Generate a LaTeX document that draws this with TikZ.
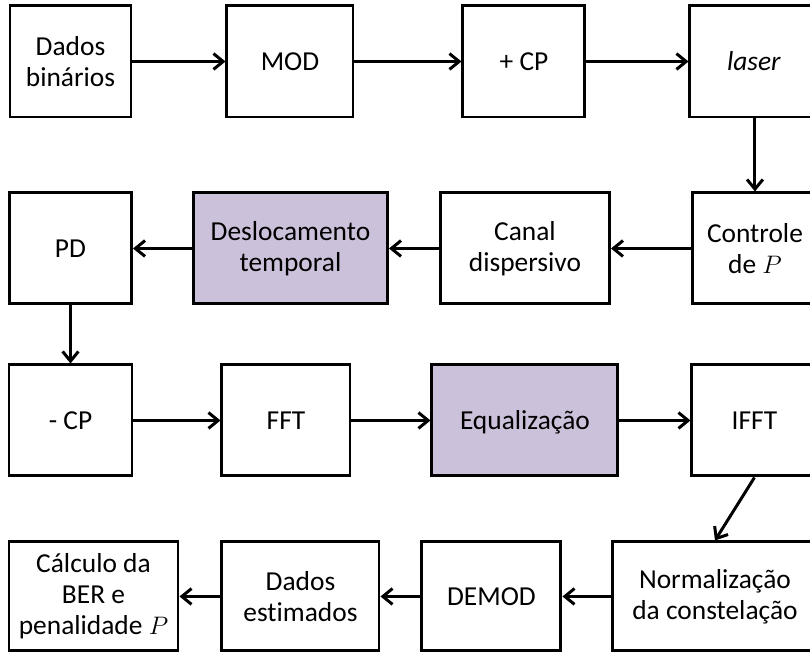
\documentclass[tikz,border=0pt]{standalone}
\usepackage{fontspec}
\setmainfont{Carlito}[Ligatures=NoCommon]
\usetikzlibrary{arrows.meta, positioning}
\definecolor{lilac}{HTML}{CCC1DA}

\begin{document}
\begin{tikzpicture}
    \tikzset{
        block/.style = {rectangle, draw=black, fill=white, line width=1.7pt, minimum height=2.22cm, align=center, inner sep=0pt, font=\fontsize{15.6}{17.6}\selectfont},
        shaded/.style = {block, fill=lilac},
        line/.style = {draw=black, line width=1.7pt, -{Straight Barb[length=5.5pt,width=9pt]}},
    }
    \useasboundingbox (0,0) rectangle (16.2,-13.06);

    % first row
    \node[block, minimum width=2.42cm](dados) at (1.41,-1.23){Dados\\binários};
    \node[block, minimum width=2.52cm](mod)[right = 1.86cm of dados]{MOD};
    \node[block, minimum width=2.44cm](addcp)[right = 2.14cm of mod]{+ CP};
    \node[block, minimum width=2.56cm](laser)[right = 2.04cm of addcp]{\textit{laser}};

    % second row
    \node[block, minimum width=2.44cm](pd)[below = 1.46cm of dados]{PD};
    \node[shaded, minimum width=3.88cm](desloc)[right = 1.18cm of pd]{Deslocamento\\temporal};
    \node[block, minimum width=3.38cm](canal)[right = 1.0cm of desloc]{Canal\\dispersivo};
    \node[block, minimum width=2.5cm](controle)[right = 1.6cm of canal]{Controle\\de \(P\)};

    % third row
    \node[block, minimum width=2.46cm](menoscp)[below = 1.16cm of pd]{- CP};
    \node[block, minimum width=2.56cm](fft)[right = 1.74cm of menoscp]{FFT};
    \node[shaded, minimum width=3.72cm, text depth=0pt](equal)[right = 1.58cm of fft]{Equalização};
    \node[block, minimum width=2.5cm](ifft)[right = 1.42cm of equal]{IFFT};

    % fourth row
    \node[block, minimum width=3.38cm, minimum height=2.18cm](calc)[below = 1.26cm of menoscp.south west, anchor=north west]{Cálculo da\\BER e\\penalidade \(P\)};
    \node[block, minimum width=3.14cm, minimum height=2.18cm](estim)[right = 0.82cm of calc]{Dados\\estimados};
    \node[block, minimum width=2.78cm, minimum height=2.18cm](demod)[right = 0.8cm of estim]{DEMOD};
    \node[block, minimum width=4.08cm, minimum height=2.18cm](norm)[right = 0.98cm of demod]{Normalização\\da constelação};

    \path [line] (dados) -- (mod);
    \path [line] (mod) -- (addcp);
    \path [line] (addcp) -- (laser);
    \path [line] (laser.south -| controle.north) -- (controle.north);
    \path [line] (controle) -- (canal);
    \path [line] (canal) -- (desloc);
    \path [line] (desloc) -- (pd);
    \path [line] (pd) -- (menoscp);
    \path [line] (menoscp) -- (fft);
    \path [line] (fft) -- (equal);
    \path [line] (equal) -- (ifft);
    \path [line] (ifft.south) -- (norm.north);
    \path [line] (norm) -- (demod);
    \path [line] (demod) -- (estim);
    \path [line] (estim) -- (calc);

\end{tikzpicture}
\end{document}
